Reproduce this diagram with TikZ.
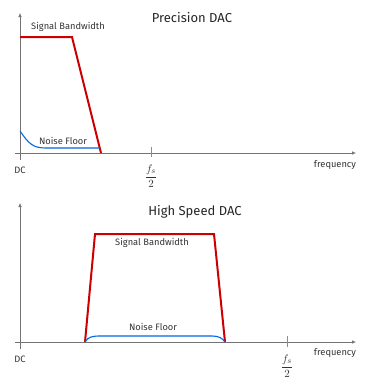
\documentclass[tikz,border=0pt]{standalone}
\usepackage{fontspec}
\setmainfont{Fira Sans}
\usetikzlibrary{arrows.meta}

\begin{document}
\begin{tikzpicture}[x=1pt,y=-1pt,
  axis/.style={draw=black!55, line width=0.6pt, -{Latex[length=4pt,width=3.5pt]}},
  fstick/.style={draw=black!45, line width=0.6pt},
  band/.style={draw=red!80!black, line width=2pt, line join=miter},
  noise/.style={draw=blue!55!cyan!90!black, line width=1.1pt},
  lbl/.style={text=black!80, font=\fontsize{9.3}{10}\selectfont, inner sep=1pt},
  ttl/.style={text=black!85, font=\fontsize{13}{14}\selectfont, inner sep=1pt},
  half/.style={text=black!80, font=\fontsize{11}{12}\selectfont, inner sep=0pt}]
\useasboundingbox (0,0) rectangle (390,392);

% Precision DAC
\coordinate (ybot1) at (20,160);
\coordinate (ytop1) at (20,13);
\coordinate (xl1) at (15,153);
\coordinate (xr1) at (356,153);
\draw[axis] (ybot1) -- (ytop1);
\draw[axis] (xl1) -- (xr1);
\coordinate (sa1) at (20,37);
\coordinate (sb1) at (72,37);
\coordinate (sc1) at (101,153);
\draw[band] (sa1) -- (sb1) -- (sc1);
\coordinate (na1) at (20,131);
\coordinate (nb1) at (100,148);
\draw[noise] (na1) .. controls (29,144) and (33,148) .. (46,148) -- (nb1);
\coordinate (ta1) at (151,147);
\coordinate (tb1) at (151,157);
\draw[fstick] (ta1) -- (tb1);
\node[ttl] (title1) at (192,18) {Precision DAC};
\node[lbl] (sig1) at (68,27) {Signal Bandwidth};
\node[lbl] (nf1) at (63,141) {Noise Floor};
\node[lbl] (dc1) at (20,170) {DC};
\node[lbl] (freq1) at (335,165) {frequency};
\node[half] (fs1) at (151,176) {$\displaystyle\frac{f_s}{2}$};

% High Speed DAC
\coordinate (ybot2) at (20,349);
\coordinate (ytop2) at (20,203);
\coordinate (xl2) at (15,342);
\coordinate (xr2) at (356,342);
\draw[axis] (ybot2) -- (ytop2);
\draw[axis] (xl2) -- (xr2);
\coordinate (sa2) at (85,342);
\coordinate (sb2) at (95,234);
\coordinate (sc2) at (214,234);
\coordinate (sd2) at (225,342);
\draw[band] (sa2) -- (sb2) -- (sc2) -- (sd2);
\draw[noise] (sa2) .. controls (88,337) and (92,336) .. (100,336)
  -- (212,336) .. controls (219,336) and (222,338) .. (sd2);
\coordinate (ta2) at (287,336);
\coordinate (tb2) at (287,347);
\draw[fstick] (ta2) -- (tb2);
\node[ttl] (title2) at (195,212) {High Speed DAC};
\node[lbl] (sig2) at (152,243) {Signal Bandwidth};
\node[lbl] (nf2) at (153,327) {Noise Floor};
\node[lbl] (dc2) at (20,359) {DC};
\node[lbl] (freq2) at (335,353) {frequency};
\node[half] (fs2) at (287,366) {$\displaystyle\frac{f_s}{2}$};
\end{tikzpicture}
\end{document}
